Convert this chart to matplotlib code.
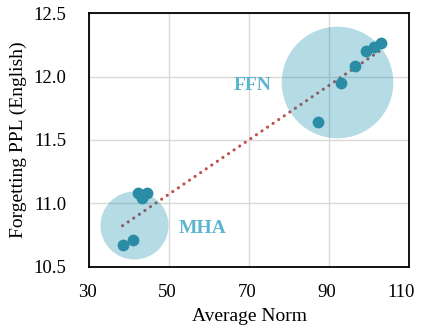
import numpy as np
import matplotlib
matplotlib.use("Agg")
import matplotlib.pyplot as plt
import matplotlib.transforms as mtransforms

plt.rcParams['font.family'] = ['Liberation Serif', 'DejaVu Serif']

# Daten: MHA- und FFN-Gruppen
mha_norm = [38.6, 40.9, 42.3, 44.4, 43.3]
mha_ppl = [10.67, 10.71, 11.08, 11.08, 11.04]
ffn_norm = [87.3, 93.0, 96.5, 99.2, 101.3, 103.0]
ffn_ppl = [11.64, 11.95, 12.085, 12.20, 12.23, 12.26]

# Hervorhebungskreise (Mittelpunkte)
mha_center = (41.25, 10.83)
ffn_center = (92.1, 11.96)

x_ticks = [30, 50, 70, 90, 110]
y_ticks = [10.5, 11.0, 11.5, 12.0, 12.5]

fig = plt.figure(figsize=(4.21, 3.31), dpi=100)
ax = fig.add_axes([0.2114, 0.1934, 0.7601, 0.7673])

all_x = np.array(mha_norm + ffn_norm)
all_y = np.array(mha_ppl + ffn_ppl)

# Trendlinie
k, d = np.polyfit(all_x, all_y, 1)
xs = np.array([all_x.min() - 0.2, all_x.max()])
ax.plot(xs, k * xs + d, color="#C0504D", linewidth=2.3,
        linestyle=(0, (0.01, 2.1)), dash_capstyle="round", zorder=2)

# Kreise (halbtransparent, ueber der Linie)
circ_col = (0.0, 0.52, 0.66)
ax.scatter([mha_center[0]], [mha_center[1]], s=2400, color=circ_col,
           alpha=0.29, linewidths=0, zorder=3)
ax.scatter([ffn_center[0]], [ffn_center[1]], s=6460, color=circ_col,
           alpha=0.29, linewidths=0, zorder=3)

# Punkte
ax.scatter(all_x, all_y, s=72, color="#2A8CA5", linewidths=0, zorder=4)

ax.text(70.8, 11.93, "FFN", color="#5BB5CF", fontsize=14,
        fontweight="bold", ha="center", va="center", zorder=5)
ax.text(58.3, 10.805, "MHA", color="#5BB5CF", fontsize=14,
        fontweight="bold", ha="center", va="center", zorder=5)

ax.set_xlim(30, 110)
ax.set_ylim(10.5, 12.5)
ax.set_xticks(x_ticks)
ax.set_yticks(y_ticks)
ax.set_yticklabels([f"{v:.1f}" for v in y_ticks])
ax.tick_params(length=0, labelsize=13.5)
ax.tick_params(axis="y", pad=16)
ax.tick_params(axis="x", pad=12)
ax.grid(True, color="#D9D9D9", linewidth=1.0, zorder=0)
ax.set_axisbelow(True)
for sp in ax.spines.values():
    sp.set_linewidth(1.3)
    sp.set_color("black")

# x-Beschriftungen etwas nach links, letzte mehr (passt sonst nicht)
xlabels = ax.get_xticklabels()
for i, lab in enumerate(xlabels):
    dx = -8 if i == len(xlabels) - 1 else -2
    lab.set_transform(lab.get_transform() +
                      mtransforms.ScaledTranslation(dx / 100, 0, fig.dpi_scale_trans))

ax.set_xlabel("Average Norm", fontsize=14, labelpad=5)
ax.set_ylabel("Forgetting PPL (English)", fontsize=14, labelpad=5)

fig.savefig("out.png", dpi=100)
